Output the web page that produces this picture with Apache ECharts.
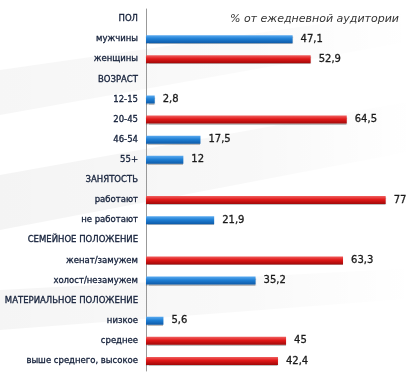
<!DOCTYPE html>
<html>
<head>
<meta charset="utf-8">
<script src="https://cdn.jsdelivr.net/npm/echarts@6/dist/echarts.min.js"></script>
<style>
  html, body { margin: 0; padding: 0; background: #fff; }
  #chart { width: 418px; height: 376px; }
</style>
</head>
<body>
<div id="chart"></div>
<script>
// категории (заголовки групп без значений)
var categories = ['ПОЛ', 'мужчины', 'женщины', 'ВОЗРАСТ', '12-15', '20-45', '46-54', '55+',
    'ЗАНЯТОСТЬ', 'работают', 'не работают', 'СЕМЕЙНОЕ ПОЛОЖЕНИЕ', 'женат/замужем',
    'холост/незамужем', 'МАТЕРИАЛЬНОЕ ПОЛОЖЕНИЕ', 'низкое', 'среднее', 'выше среднего, высокое'];
// красные столбики
var redValues = ['-', '-', 52.9, '-', '-', 64.5, '-', '-', '-', 77, '-', '-', 63.3, '-', '-', '-', 45, 42.4];
// синие столбики
var blueValues = ['-', 47.1, '-', '-', 2.8, '-', 17.5, 12, '-', '-', 21.9, '-', '-', 35.2, '-', 5.6, '-', '-'];
var title = '% от ежедневной аудитории';

var myChart = echarts.init(document.getElementById('chart'));

function grad(top, mid, bottom) {
    return new echarts.graphic.LinearGradient(0, 0, 0, 1, [
        { offset: 0, color: top },
        { offset: 0.45, color: mid },
        { offset: 1, color: bottom }
    ]);
}

function swoosh(a) {
    return new echarts.graphic.LinearGradient(0, 0, 1, 0, [
        { offset: 0, color: 'rgba(0,0,0,' + a + ')' },
        { offset: 0.6, color: 'rgba(0,0,0,' + (a * 0.6) + ')' },
        { offset: 1, color: 'rgba(0,0,0,0)' }
    ]);
}

var labelOpt = {
    show: true,
    position: 'right',
    distance: 8,
    fontFamily: 'DejaVu Sans',
    fontSize: 10,
    color: '#1a1a1a',
    textBorderColor: '#1a1a1a',
    textBorderWidth: 0.3,
    formatter: function (p) { return String(p.value).replace('.', ','); }
};

var option = {
    backgroundColor: '#ffffff',
    animation: false,
    graphic: [
        { type: 'polygon', z: -10, silent: true,
          shape: { points: [[0, 70], [418, 10], [418, 40], [0, 115]] },
          style: { fill: swoosh(0.035) } },
        { type: 'polygon', z: -10, silent: true,
          shape: { points: [[0, 175], [418, 100], [418, 150], [0, 230]] },
          style: { fill: swoosh(0.045) } },
        { type: 'polygon', z: -10, silent: true,
          shape: { points: [[0, 290], [418, 268], [418, 298], [0, 330]] },
          style: { fill: swoosh(0.04) } }
    ],
    title: {
        text: title,
        right: 14,
        top: 9,
        textStyle: {
            fontFamily: 'DejaVu Sans',
            fontSize: 11,
            fontStyle: 'italic',
            fontWeight: 'normal',
            color: '#333'
        }
    },
    grid: { left: 146, right: 23, top: 9, bottom: 5, containLabel: false },
    xAxis: {
        type: 'value',
        min: 0,
        max: 80,
        show: false
    },
    yAxis: {
        type: 'category',
        data: categories,
        inverse: true,
        axisLine: { lineStyle: { color: '#999' } },
        axisTick: { length: 4, lineStyle: { color: '#999' } },
        axisLabel: {
            fontFamily: 'DejaVu Sans',
            fontSize: 8.5,
            color: '#14203a',
            textBorderColor: '#14203a',
            textBorderWidth: 0.3,
            margin: 8
        }
    },
    series: [
        {
            name: 'red',
            type: 'bar',
            data: redValues,
            barWidth: 8,
            barGap: '-100%',
            itemStyle: {
                color: grad('#f06060', '#e01818', '#a00808'),
                shadowColor: 'rgba(0,0,0,0.25)',
                shadowOffsetY: 1,
                shadowBlur: 1
            },
            label: labelOpt
        },
        {
            name: 'blue',
            type: 'bar',
            data: blueValues,
            barWidth: 8,
            barGap: '-100%',
            itemStyle: {
                color: grad('#5aaaf0', '#1f7fd4', '#0d5aa8'),
                shadowColor: 'rgba(0,0,0,0.25)',
                shadowOffsetY: 1,
                shadowBlur: 1
            },
            label: labelOpt
        }
    ]
};
myChart.setOption(option);
</script>
</body>
</html>
